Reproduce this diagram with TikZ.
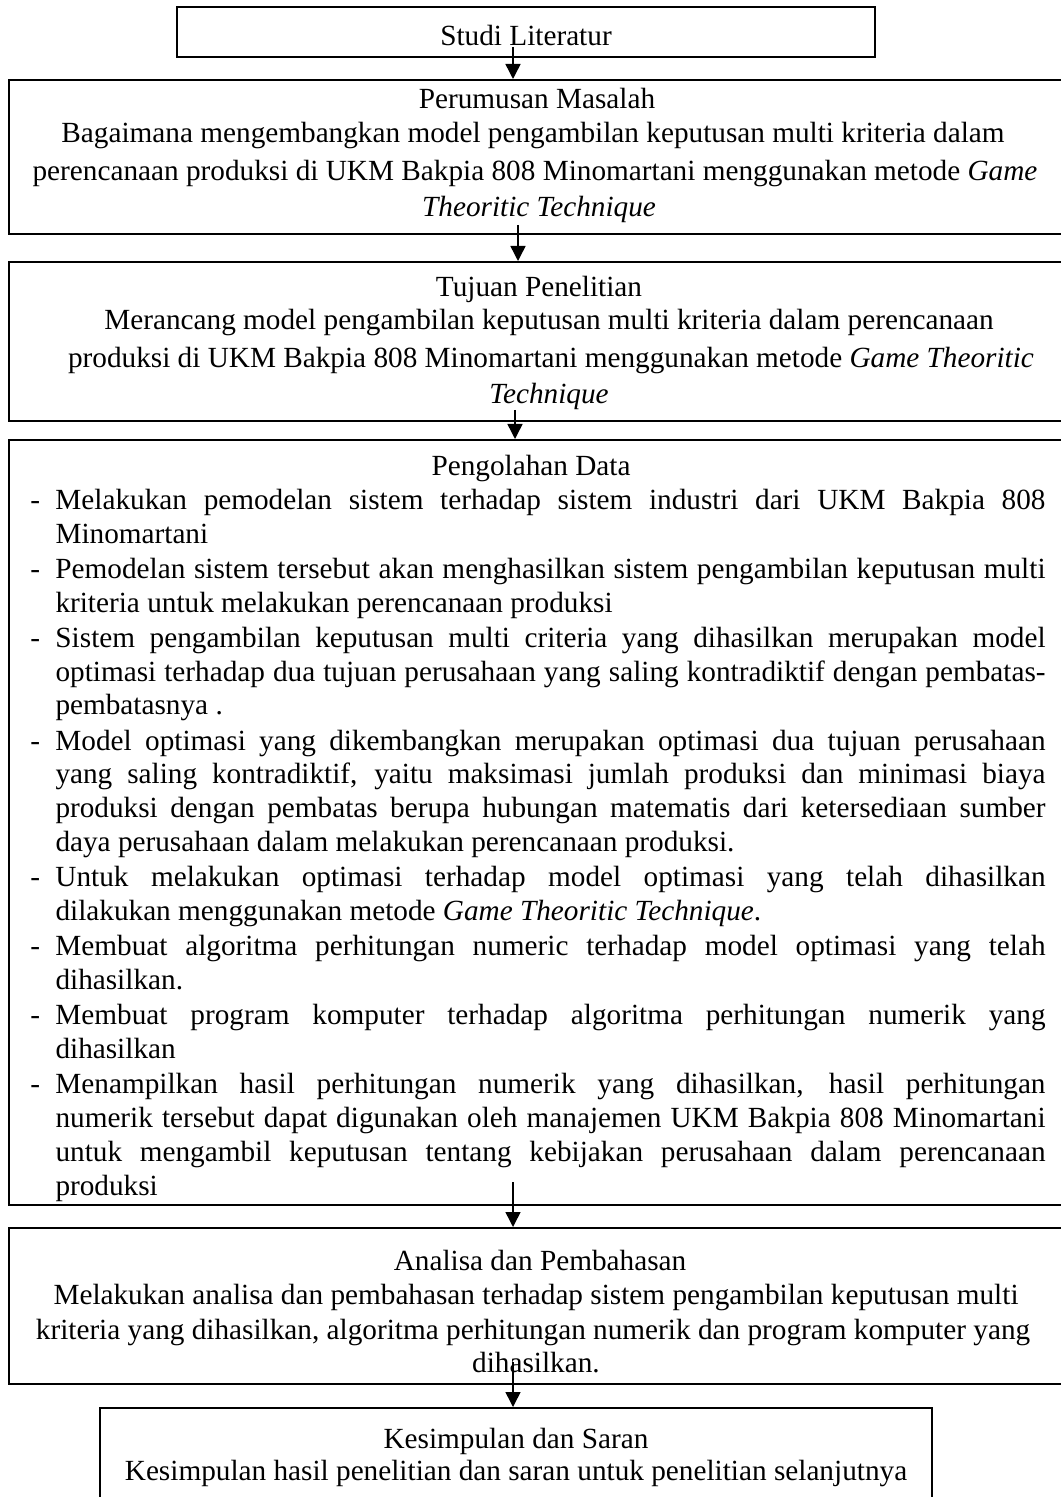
\documentclass[tikz,border=0pt]{standalone}
\usepackage{fontspec}
\setmainfont{Liberation Serif}
\usetikzlibrary{arrows.meta}
\newcommand\dashitem{\par\noindent\hangindent=10pt\hangafter=1\makebox[10pt][l]{-}}
\begin{document}
\begin{tikzpicture}[x=0.4pt,y=-0.4pt,
  box/.style={draw=black,line width=0.8pt,rectangle,inner sep=0pt},
  txt/.style={anchor=base,inner sep=0pt,font=\fontsize{11.7pt}{13.5pt}\selectfont},
  conn/.style={line width=0.6pt,-{Triangle[length=6pt,width=6pt]}}]
\useasboundingbox (0,0) rectangle (1060,1497);
% boxes
\node[box,minimum width=279.2pt,minimum height=20pt] (b1) at (526,32) {};
\node[box,minimum width=421.6pt,minimum height=61.6pt] (b2) at (536,157) {};
\node[box,minimum width=428.8pt,minimum height=63.6pt] (b3) at (545,341.5) {};
\node[box,minimum width=432.4pt,minimum height=306pt] (b4) at (549.5,822.5) {};
\node[box,minimum width=422.4pt,minimum height=62.4pt] (b5) at (537,1306) {};
\node[box,minimum width=332.8pt,minimum height=48.8pt] (b6) at (516,1469) {};
% box 1
\node[txt] (t1) at (526,46) {Studi Literatur};
% box 2
\node[txt] (t2a) at (537,109) {Perumusan Masalah};
\node[txt] (t2b) at (533,143) {Bagaimana mengembangkan model pengambilan keputusan multi kriteria dalam};
\node[txt] (t2c) at (535,181) {perencanaan produksi di UKM Bakpia 808 Minomartani menggunakan metode \textit{Game}};
\node[txt] (t2d) at (539,217) {\textit{Theoritic Technique}};
% box 3
\node[txt] (t3a) at (539,297) {Tujuan Penelitian};
\node[txt] (t3b) at (549,330) {Merancang model pengambilan keputusan multi kriteria dalam perencanaan};
\node[txt] (t3c) at (551,368) {produksi di UKM Bakpia 808 Minomartani menggunakan metode \textit{Game Theoritic}};
\node[txt] (t3d) at (549,404) {\textit{Technique}};
% box 4
\node[txt] (t4a) at (531,476) {Pengolahan Data};
\node[txt,anchor=base west,text width=406pt,align=justify,font=\fontsize{11.7pt}{13.55pt}\selectfont] (t4b) at (30,474) {%
\tolerance=9999\hyphenpenalty=10000\parskip=0.5pt
\dashitem Melakukan pemodelan sistem terhadap sistem industri dari UKM Bakpia 808\linebreak Minomartani
\dashitem Pemodelan sistem tersebut akan menghasilkan sistem pengambilan keputusan multi\linebreak kriteria untuk melakukan perencanaan produksi
\dashitem Sistem pengambilan keputusan multi criteria yang dihasilkan merupakan model\linebreak optimasi terhadap dua tujuan perusahaan yang saling kontradiktif dengan pembatas-\linebreak pembatasnya .
\dashitem Model optimasi yang dikembangkan merupakan optimasi dua tujuan perusahaan\linebreak yang saling kontradiktif, yaitu maksimasi jumlah produksi dan minimasi biaya\linebreak produksi dengan pembatas berupa hubungan matematis dari ketersediaan sumber\linebreak daya perusahaan dalam melakukan perencanaan produksi.
\dashitem Untuk melakukan optimasi terhadap model optimasi yang telah dihasilkan\linebreak dilakukan menggunakan metode \textit{Game Theoritic Technique}.
\dashitem Membuat algoritma perhitungan numeric terhadap model optimasi yang telah\linebreak dihasilkan.
\dashitem Membuat program komputer terhadap algoritma perhitungan numerik yang\linebreak dihasilkan
\dashitem Menampilkan hasil perhitungan numerik yang dihasilkan, hasil perhitungan\linebreak numerik tersebut dapat digunakan oleh manajemen UKM Bakpia 808 Minomartani\linebreak untuk mengambil keputusan tentang kebijakan perusahaan dalam perencanaan\linebreak produksi\par};
% box 5
\node[txt] (t5a) at (540,1270) {Analisa dan Pembahasan};
\node[txt] (t5b) at (536,1304) {Melakukan analisa dan pembahasan terhadap sistem pengambilan keputusan multi};
\node[txt] (t5c) at (533,1339) {kriteria yang dihasilkan, algoritma perhitungan numerik dan program komputer yang};
\node[txt] (t5d) at (536,1372) {dihasilkan.};
% box 6
\node[txt] (t6a) at (516,1448) {Kesimpulan dan Saran};
\node[txt] (t6b) at (516,1480) {Kesimpulan hasil penelitian dan saran untuk penelitian selanjutnya};
% connectors
\coordinate (s1) at (513,47);
\coordinate (s2) at (518,225);
\coordinate (s3) at (515,410);
\coordinate (s4) at (513,1182);
\coordinate (s5) at (513,1362);
\draw[conn] (s1) -- (s1 |- b2.north);
\draw[conn] (s2) -- (s2 |- b3.north);
\draw[conn] (s3) -- (s3 |- b4.north);
\draw[conn] (s4) -- (s4 |- b5.north);
\draw[conn] (s5) -- (s5 |- b6.north);
\end{tikzpicture}
\end{document}
